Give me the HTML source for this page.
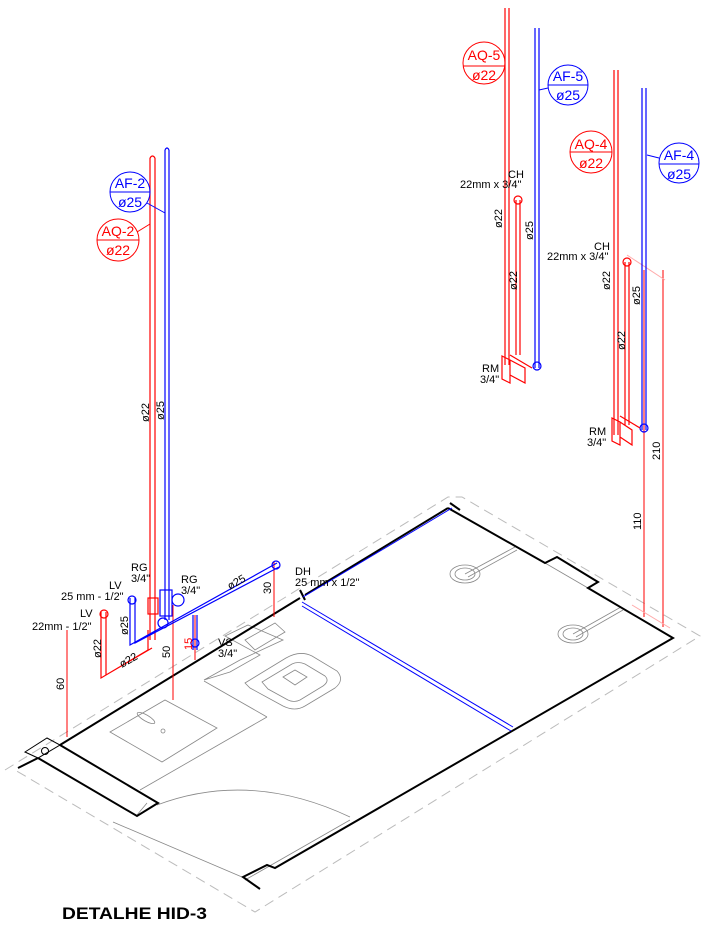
<!DOCTYPE html>
<html><head><meta charset="utf-8"><style>
html,body{margin:0;padding:0;background:#fff;}
svg{display:block;font-family:"Liberation Sans",sans-serif;}
</style></head><body>
<svg width="716" height="926" viewBox="0 0 716 926" xmlns="http://www.w3.org/2000/svg">
<g stroke="#bbb" stroke-width="1" fill="none" stroke-dasharray="10,6">
<polyline points="5,770 448,497 462,497 700,636 255,912 15,770"/>
</g>
<g stroke="#888" stroke-width="0.8" fill="none">
<line x1="140" y1="790" x2="267" y2="717"/>
<line x1="267" y1="717" x2="204" y2="681"/>
<polygon points="110,732 165,700 217,728 162,762"/>
<ellipse cx="146" cy="718" rx="10" ry="3" transform="rotate(30 146 718)"/>
<circle cx="163" cy="731" r="2"/>
<polygon points="204,680 240,660 283,640 248,625 225,636 260,655 230,672"/>
<path d="M245,683 L286,658 Q300,650 312,656 L337,671 Q345,680 335,688 L305,706 Q295,712 283,706 L250,688 Z"/>
<path d="M262,682 L292,664 Q298,661 305,664 L325,676 Q330,681 323,686 L300,700 Q294,703 288,700 L268,689 Z"/>
<polygon points="283,677 295,670 307,677 295,685"/>
<polygon points="245,640 275,623 285,632 255,650"/>
<path d="M157,805 Q250,770 350,817"/>
<line x1="113" y1="822" x2="242" y2="877"/>
<line x1="350" y1="820" x2="245" y2="880"/>
<line x1="147" y1="803" x2="137" y2="815"/>
<ellipse cx="465" cy="574" rx="15" ry="9"/>
<ellipse cx="465" cy="574" rx="10" ry="6"/>
<line x1="465" y1="574" x2="515" y2="547"/>
<line x1="468" y1="577" x2="517" y2="550"/>
<ellipse cx="573" cy="634" rx="15" ry="9"/>
<ellipse cx="573" cy="634" rx="10" ry="6"/>
<line x1="573" y1="634" x2="621" y2="607"/>
<line x1="576" y1="637" x2="623" y2="610"/>
<line x1="545" y1="563" x2="588" y2="588"/>
</g>
<g stroke="#000" stroke-width="2" fill="none">
<polyline points="60,745 300,598"/>
<polyline points="305,595 448,508"/>
<polyline points="448,508 545,563 557,557 598,582 588,588 673,638 275,868 267,865 243,877 260,889"/>
<polyline points="60,745 158,803 137,816 38,758"/>
<polyline points="18,768 38,758"/>
<line x1="300" y1="590" x2="305" y2="600"/>
<line x1="450" y1="503" x2="460" y2="510"/>
<polygon points="25,752 47,738 60,745 38,758" stroke-width="1"/>
</g>
<circle cx="45" cy="751" r="3.5" fill="none" stroke="#000"/>
<g stroke="#00f" stroke-width="1" fill="none">
<line x1="303" y1="597" x2="452" y2="508"/>
<line x1="302" y1="602" x2="513" y2="727"/>
<line x1="302" y1="606" x2="511" y2="731"/>
</g>
<g stroke="#f00" stroke-width="1" fill="none">
<line x1="67" y1="630" x2="67" y2="737"/>
<line x1="173" y1="605" x2="173" y2="700"/>
<line x1="195" y1="615" x2="195" y2="660"/>
<line x1="274" y1="562" x2="274" y2="617"/>
<line x1="644" y1="270" x2="644" y2="617"/>
<line x1="663" y1="270" x2="663" y2="627"/>
<line x1="627" y1="255" x2="665" y2="280" stroke="#faa"/>
<line x1="632" y1="605" x2="670" y2="628" stroke="#faa"/>
</g>
<g fill="none" stroke-width="1.2">
<path d="M150,158 V640 M155,158 V640" stroke="#f00"/>
<path d="M165,150 V620 M169,150 V620" stroke="#00f"/>
<path d="M150,158 Q152.5,154 155,158" stroke="#f00"/>
<path d="M165,150 Q167,146 169,150" stroke="#00f"/>
<path d="M101,612 V678 L148,650 V630 M106,612 V675 L152,648" stroke="#f00"/>
<circle cx="104" cy="614" r="4" stroke="#f00"/>
<path d="M130,598 V645 L277,563 M135,598 V643 L279,567" stroke="#00f"/>
<circle cx="132" cy="600" r="4" stroke="#00f"/>
<circle cx="276" cy="565" r="4" stroke="#00f"/>
<path d="M193,615 V650 M197,615 V650" stroke="#00f"/>
<circle cx="195" cy="643" r="4" stroke="#00f"/>
<rect x="148" y="598" width="10" height="16" stroke="#f00"/>
<rect x="160" y="590" width="12" height="26" stroke="#00f"/>
<circle cx="178" cy="600" r="6" stroke="#00f"/>
<circle cx="163" cy="623" r="5" stroke="#00f"/>
</g>
<g fill="none" stroke-width="1.2">
<path d="M505,8 V365 M509,8 V365" stroke="#f00"/>
<path d="M516,200 V355 M520,200 V355" stroke="#f00"/>
<circle cx="518" cy="200" r="4" stroke="#f00"/>
<path d="M535,28 V368 M539,28 V368" stroke="#00f"/>
<circle cx="537" cy="366" r="4" stroke="#00f"/>
<path d="M502,356 L510,360 V383 L502,379 Z M510,360 L525,368 V383 L510,375" stroke="#f00"/>
<line x1="510" y1="355" x2="532" y2="368" stroke="#f00"/>
<path d="M614,70 V435 M618,70 V435" stroke="#f00"/>
<path d="M625,262 V425 M629,262 V425" stroke="#f00"/>
<circle cx="627" cy="262" r="4" stroke="#f00"/>
<path d="M642,88 V430 M646,88 V430" stroke="#00f"/>
<circle cx="644" cy="428" r="4" stroke="#00f"/>
<path d="M612,418 L620,422 V445 L612,441 Z M620,422 L632,430 V445 L620,437" stroke="#f00"/>
<line x1="620" y1="416" x2="640" y2="428" stroke="#f00"/>
</g>
<g fill="none" stroke-width="1">
<circle cx="130" cy="192" r="20" stroke="#00f"/><line x1="110" y1="192" x2="150" y2="192" stroke="#00f"/>
<line x1="147" y1="203" x2="165" y2="213" stroke="#00f"/>
<circle cx="118" cy="240" r="21" stroke="#f00"/><line x1="97" y1="240" x2="139" y2="240" stroke="#f00"/>
<line x1="137" y1="232" x2="150" y2="224" stroke="#f00"/>
<circle cx="484" cy="63" r="21" stroke="#f00"/><line x1="463" y1="66" x2="505" y2="66" stroke="#f00"/>
<circle cx="568" cy="85" r="20" stroke="#00f"/><line x1="548" y1="85" x2="588" y2="85" stroke="#00f"/>
<line x1="539" y1="90" x2="548" y2="88" stroke="#00f"/>
<circle cx="591" cy="152" r="21" stroke="#f00"/><line x1="570" y1="152" x2="612" y2="152" stroke="#f00"/>
<circle cx="679" cy="163" r="20" stroke="#00f"/><line x1="659" y1="164" x2="699" y2="164" stroke="#00f"/>
<line x1="647" y1="155" x2="659" y2="158" stroke="#00f"/>
</g>
<g font-size="14" text-anchor="middle">
<text x="130" y="188" fill="#00f">AF-2</text><text x="130" y="207" fill="#00f">ø25</text>
<text x="118" y="236" fill="#f00">AQ-2</text><text x="118" y="255" fill="#f00">ø22</text>
<text x="484" y="60" fill="#f00">AQ-5</text><text x="484" y="80" fill="#f00">ø22</text>
<text x="568" y="81" fill="#00f">AF-5</text><text x="568" y="100" fill="#00f">ø25</text>
<text x="591" y="149" fill="#f00">AQ-4</text><text x="591" y="168" fill="#f00">ø22</text>
<text x="679" y="160" fill="#00f">AF-4</text><text x="679" y="179" fill="#00f">ø25</text>
</g>
<g font-size="11" fill="#000">
<text x="508" y="178">CH</text><text x="460" y="188">22mm x 3/4"</text>
<text x="594" y="250">CH</text><text x="547" y="260">22mm x 3/4"</text>
<text x="482" y="372">RM</text><text x="480" y="383">3/4"</text>
<text x="589" y="435">RM</text><text x="587" y="446">3/4"</text>
<text x="131" y="571">RG</text><text x="131" y="582">3/4"</text>
<text x="109" y="589">LV</text><text x="61" y="600">25 mm - 1/2"</text>
<text x="80" y="617">LV</text><text x="32" y="630">22mm - 1/2"</text>
<text x="181" y="583">RG</text><text x="181" y="594">3/4"</text>
<text x="295" y="575">DH</text><text x="295" y="586">25 mm x 1/2"</text>
<text x="218" y="646">VS</text><text x="218" y="657">3/4"</text>
</g>
<g font-size="11" fill="#000">
<text transform="translate(502,228) rotate(-90)">ø22</text>
<text transform="translate(533,240) rotate(-90)">ø25</text>
<text transform="translate(517,290) rotate(-90)">ø22</text>
<text transform="translate(610,290) rotate(-90)">ø22</text>
<text transform="translate(640,305) rotate(-90)">ø25</text>
<text transform="translate(625,350) rotate(-90)">ø22</text>
<text transform="translate(149,422) rotate(-90)">ø22</text>
<text transform="translate(164,420) rotate(-90)">ø25</text>
<text transform="translate(660,460) rotate(-90)">210</text>
<text transform="translate(641,530) rotate(-90)">110</text>
<text transform="translate(64,690) rotate(-90)">60</text>
<text transform="translate(101,658) rotate(-90)">ø22</text>
<text transform="translate(128,635) rotate(-90)">ø25</text>
<text transform="translate(122,668) rotate(-30)">ø22</text>
<text transform="translate(170,658) rotate(-90)">50</text>
<text fill="#f00" transform="translate(192,650) rotate(-90)">15</text>
<text transform="translate(230,590) rotate(-30)">ø25</text>
<text transform="translate(271,594) rotate(-90)">30</text>
</g>
<text x="62" y="919" font-size="16.5" font-weight="bold" fill="#000" textLength="145" lengthAdjust="spacingAndGlyphs">DETALHE HID-3</text>
</svg>
</body></html>
